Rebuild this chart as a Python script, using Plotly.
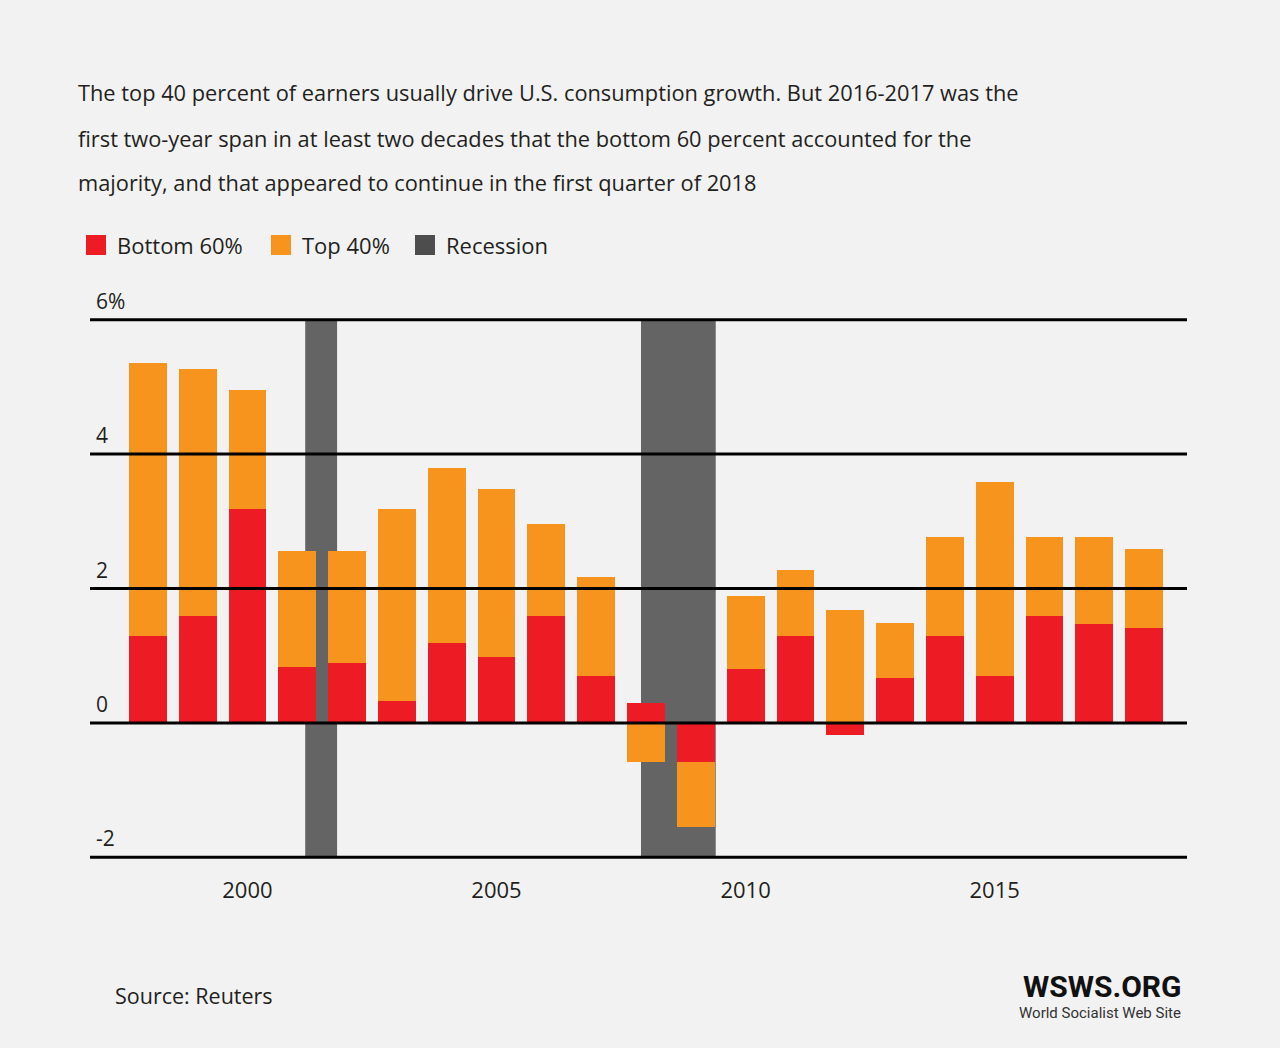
import plotly.graph_objects as go

# ---------------- data ----------------
years = list(range(1998, 2019))
bottom60 = [1.29, 1.59, 3.19, 0.83, 0.89, 0.32, 1.19, 0.98, 1.59, 0.70,
            0.30, -0.58, 0.80, 1.29, -0.18, 0.67, 1.29, 0.70, 1.59, 1.47, 1.41]
top40 = [4.07, 3.67, 1.77, 1.73, 1.67, 2.86, 2.60, 2.50, 1.37, 1.47,
         -0.58, -0.97, 1.09, 0.98, 1.68, 0.82, 1.47, 2.88, 1.17, 1.29, 1.18]
recession_start = [2001.16, 2007.90]
recession_end = [2001.80, 2009.40]
x_ticks = [2000, 2005, 2010, 2015]
y_ticks = [-2, 0, 2, 4, 6]
y_tick_labels = ["-2", "0", "2", "4", "6%"]
series_names = ["Bottom 60%", "Top 40%", "Recession"]

title_lines = [
    "The top 40 percent of earners usually drive U.S. consumption growth. But 2016-2017 was the",
    "first two-year span in at least two decades that the bottom 60 percent accounted for the",
    "majority, and that appeared to continue in the first quarter of 2018",
]

# ---------------- style ----------------
RED = "#ED1C24"
ORANGE = "#F7941D"
GREY_BAND = "#646464"
GREY_LEGEND = "#4D4D4D"
BG = "#F2F2F2"
TEXT = "#231F20"
FONT = "Open Sans"

W, H = 1280, 1048
M_L, M_R, M_T, M_B = 90, 93, 317, 188
plot_h = H - M_T - M_B


def py(pixel_y):
    """page pixel y -> paper y"""
    return (H - M_B - pixel_y) / plot_h


def px(pixel_x):
    return (pixel_x - M_L) / (W - M_L - M_R)


fig = go.Figure()
fig.add_trace(go.Bar(x=years, y=bottom60, name=series_names[0],
                     marker=dict(color=RED, line=dict(width=0)), width=0.76,
                     showlegend=False))
fig.add_trace(go.Bar(x=years, y=top40, name=series_names[1],
                     marker=dict(color=ORANGE, line=dict(width=0)), width=0.76,
                     showlegend=False))

shapes = []
for s, e in zip(recession_start, recession_end):
    shapes.append(dict(type="rect", xref="x", yref="y", x0=s, x1=e,
                       y0=y_ticks[0], y1=y_ticks[-1], fillcolor=GREY_BAND,
                       line=dict(width=0), layer="below"))
for v in y_ticks:
    shapes.append(dict(type="line", xref="paper", yref="y", x0=0, x1=1,
                       y0=v, y1=v, line=dict(color="black", width=3),
                       layer="above"))

annotations = []
for v, t in zip(y_ticks, y_tick_labels):
    annotations.append(dict(xref="paper", yref="y", x=0, y=v, text=t,
                            showarrow=False, xanchor="left", yanchor="bottom",
                            xshift=4, yshift=3,
                            font=dict(family=FONT, size=21, color=TEXT)))

for i, line in enumerate(title_lines):
    annotations.append(dict(xref="paper", yref="paper", x=px(76), y=py(93 + 45 * i),
                            text=line, showarrow=False, xanchor="left",
                            yanchor="middle",
                            font=dict(family=FONT, size=21.8, color=TEXT)))

# manual legend
legend_colors = [RED, ORANGE, GREY_LEGEND]
legend_x = [86, 271, 415]
for name, col, lx in zip(series_names, legend_colors, legend_x):
    shapes.append(dict(type="rect", xref="paper", yref="paper",
                       x0=px(lx), x1=px(lx + 20), y0=py(255), y1=py(235),
                       fillcolor=col, line=dict(width=0)))
    annotations.append(dict(xref="paper", yref="paper", x=px(lx + 29), y=py(245),
                            text=name, showarrow=False, xanchor="left",
                            yanchor="middle",
                            font=dict(family=FONT, size=22, color=TEXT)))

annotations.append(dict(xref="paper", yref="paper", x=px(113), y=py(995),
                        text="Source: Reuters", showarrow=False, xanchor="left",
                        yanchor="middle", font=dict(family=FONT, size=21.5, color=TEXT)))
annotations.append(dict(xref="paper", yref="paper", x=px(1184), y=py(986),
                        text="<b>WSWS.ORG</b>", showarrow=False, xanchor="right",
                        yanchor="middle", font=dict(family="Roboto", size=30, color="#111111")))
annotations.append(dict(xref="paper", yref="paper", x=px(1183), y=py(1013),
                        text="World Socialist Web Site", showarrow=False, xanchor="right",
                        yanchor="middle", font=dict(family="Roboto", size=15, color="#333333")))

fig.update_layout(
    width=W, height=H,
    margin=dict(l=M_L, r=M_R, t=M_T, b=M_B),
    paper_bgcolor=BG, plot_bgcolor=BG,
    barmode="relative", bargap=0,
    showlegend=False,
    shapes=shapes, annotations=annotations,
    xaxis=dict(range=[1996.84, 2018.86], tickvals=x_ticks,
               ticktext=[str(v) for v in x_ticks], showgrid=False, zeroline=False,
               showline=False, ticks="outside", ticklen=11,
               tickcolor="rgba(0,0,0,0)",
               tickfont=dict(family=FONT, size=22, color=TEXT)),
    yaxis=dict(range=[-2.04, 6.04], showgrid=False, zeroline=False,
               showticklabels=False, showline=False, ticks=""),
)

fig.write_html(
    "out.html",
    config={"displayModeBar": False},
    post_script="document.body.style.margin='0';document.body.style.background='%s';" % BG,
)
